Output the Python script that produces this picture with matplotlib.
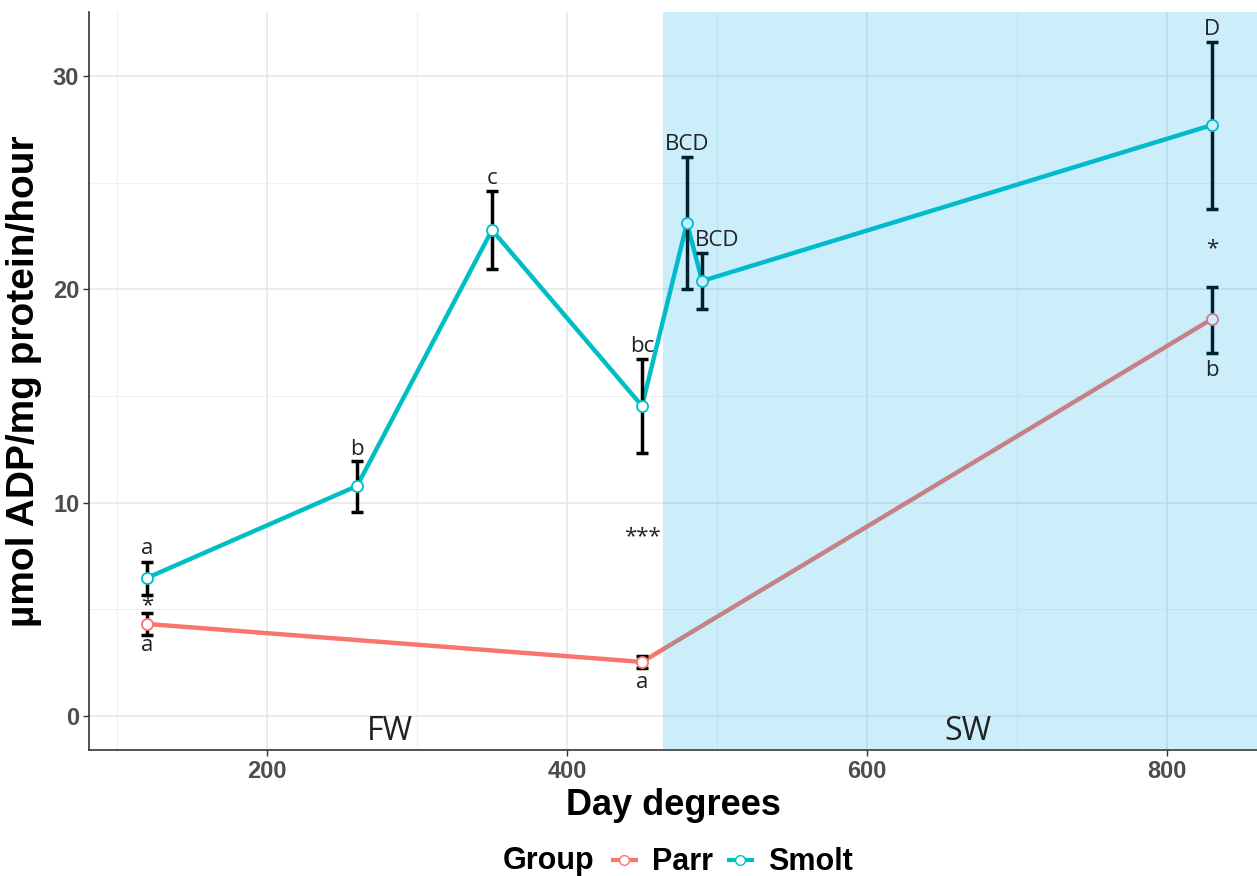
import matplotlib
matplotlib.use("Agg")
import matplotlib.pyplot as plt
from matplotlib.lines import Line2D
import numpy as np

# Data
smolt_x = [120, 260, 350, 450, 480, 490, 830]
smolt_y = [6.47, 10.78, 22.78, 14.53, 23.11, 20.39, 27.7]
smolt_lo = [5.67, 9.56, 20.95, 12.33, 20.0, 19.08, 23.77]
smolt_hi = [7.2, 11.95, 24.6, 16.74, 26.2, 21.7, 31.6]

parr_x = [120, 450, 830]
parr_y = [4.31, 2.53, 18.61]
parr_lo = [3.8, 2.25, 17.02]
parr_hi = [4.83, 2.81, 20.11]

# annotations: (x, y, text)
labels = [
    (120, 7.85, "a"), (120, 5.15, "*"), (120, 3.3, "a"),
    (260, 12.5, "b"), (350, 25.2, "c"), (450, 17.3, "bc"),
    (450, 8.4, "***"), (450, 1.55, "a"),
    (480, 26.8, "BCD"), (500, 22.3, "BCD"),
    (830, 32.2, "D"), (830, 21.9, "*"), (830, 16.2, "b"),
]
regions = [(282, -0.75, "FW"), (667, -0.75, "SW")]
sw_start = 464

parr_col = "#F8766D"
smolt_col = "#00BFC4"

fig = plt.figure(figsize=(12.57, 8.76), dpi=100)
ax = fig.add_axes([0.0708, 0.1438, 0.9292, 0.8425])
ax.set_xlim(81.3, 860)
ax.set_ylim(-1.6, 33.0)

ax.set_xticks([200, 400, 600, 800])
ax.set_xticks([100, 300, 500, 700], minor=True)
ax.set_yticks([0, 10, 20, 30])
ax.set_yticks([5, 15, 25], minor=True)
ax.grid(True, which="major", color="#e5e5e5", lw=1.1)
ax.grid(True, which="minor", color="#f0f0f0", lw=0.8)
ax.set_axisbelow(True)
ax.tick_params(which="minor", length=0)
ax.tick_params(which="major", length=4, color="#333333", width=1, pad=3)
for s in ["top", "right"]:
    ax.spines[s].set_visible(False)
for s in ["left", "bottom"]:
    ax.spines[s].set_color("#333333")
    ax.spines[s].set_linewidth(1.2)
for lab in ax.get_xticklabels() + ax.get_yticklabels():
    lab.set_fontfamily("Liberation Sans")
    lab.set_fontweight("bold")
    lab.set_fontsize(17)
    lab.set_color("#4d4d4d")

# lines
ax.plot(parr_x, parr_y, color=parr_col, lw=3.2, zorder=2)
ax.plot(smolt_x, smolt_y, color=smolt_col, lw=3.2, zorder=2)
# error bars
for xs, ys, lo, hi in [(parr_x, parr_y, parr_lo, parr_hi), (smolt_x, smolt_y, smolt_lo, smolt_hi)]:
    ys = np.array(ys)
    ax.errorbar(xs, ys, yerr=[ys - np.array(lo), np.array(hi) - ys], fmt="none",
                ecolor="black", elinewidth=2.5, capsize=4, capthick=2.5, zorder=3)
ax.plot(parr_x, parr_y, "o", ms=8, mfc="white", mec=parr_col, mew=1.3, ls="none", zorder=4)
ax.plot(smolt_x, smolt_y, "o", ms=8, mfc="white", mec=smolt_col, mew=1.3, ls="none", zorder=4)

# SW shading on top
ax.axvspan(sw_start, 860, color="#00AEEF", alpha=0.2, lw=0, zorder=5)

for x, y, t in labels:
    ax.text(x, y, t, ha="center", va="center", fontsize=16, family="Open Sans",
            color="#222222", zorder=6)
for x, y, t in regions:
    ax.text(x, y, t, ha="center", va="center", fontsize=23, family="Open Sans",
            color="#222222", zorder=6)

ax.set_xlabel("Day degrees", fontsize=26, fontweight="bold", family="Liberation Sans", labelpad=4)
ax.set_ylabel("µmol ADP/mg protein/hour", fontsize=28, fontweight="bold", family="Liberation Sans", labelpad=8)

# legend
handles = [
    Line2D([0], [0], color=parr_col, lw=3, marker="o", mfc="white", mec=parr_col, ms=7),
    Line2D([0], [0], color=smolt_col, lw=3, marker="o", mfc="white", mec=smolt_col, ms=7),
]
fig.text(0.4, 0.0, "Group", fontsize=22, fontweight="bold", family="Liberation Sans",
         ha="left", va="bottom")
leg = fig.legend(handles, ["Parr", "Smolt"], loc="lower left", bbox_to_anchor=(0.4655, -0.033),
                 ncol=2, frameon=False, handlelength=0.75, columnspacing=0.5, handletextpad=0.55,
                 prop={"family": "Liberation Sans", "weight": "bold", "size": 22})

fig.savefig("out.png", dpi=100)
